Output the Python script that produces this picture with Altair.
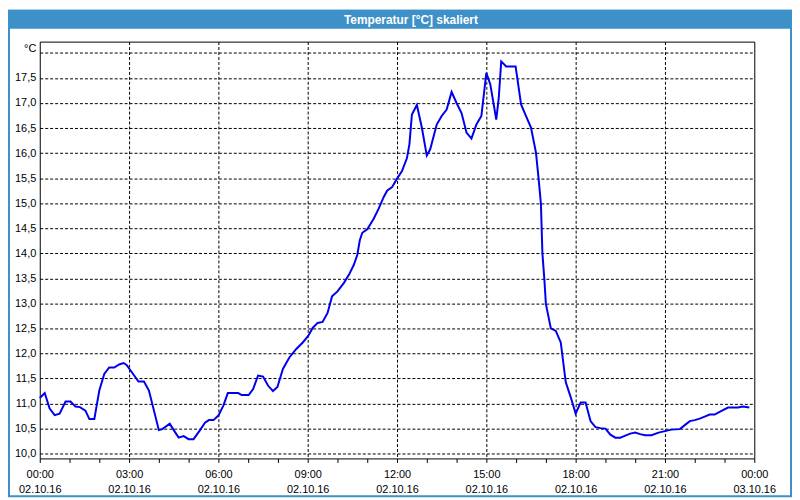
import json
import altair as alt
import pandas as pd

# ---- data ----
times = ["00:00","00:10","00:20","00:30","00:40","00:52","01:02","01:12","01:21","01:32",
         "01:40","01:50","02:00","02:10","02:20","02:30","02:40","02:49","02:55","03:03",
         "03:19","03:30","03:40","04:00","04:07","04:22","04:30","04:40","04:50","05:00",
         "05:10","05:23","05:33","05:41","05:50","06:00","06:10","06:19","06:40","06:47",
         "07:01","07:10","07:20","07:30","07:40","07:50","07:59","08:10","08:23","08:37",
         "08:50","09:01","09:10","09:20","09:30","09:40","09:49","10:00","10:13","10:23",
         "10:33","10:40","10:45","10:50","11:00","11:13","11:23","11:33","11:40","11:50",
         "12:00","12:10","12:20","12:25","12:30","12:40","12:50","13:00","13:07","13:20",
         "13:30","13:40","13:50","14:00","14:10","14:20","14:30","14:40","14:50","14:55",
         "15:00","15:08","15:20","15:25","15:30","15:40","15:59","16:10","16:20","16:30",
         "16:40","16:45","16:50","16:53","16:57","17:00","17:10","17:20","17:30","17:40",
         "17:50","18:00","18:10","18:20","18:30","18:40","18:50","19:00","19:10","19:20",
         "19:30","19:40","19:50","20:00","20:10","20:20","20:33","20:47","21:00","21:13",
         "21:30","21:40","21:50","22:00","22:10","22:20","22:30","22:40","22:53","23:07",
         "23:27","23:37","23:50"]
temps = [11.11,11.21,10.90,10.77,10.80,11.04,11.04,10.94,10.93,10.86,
         10.69,10.69,11.26,11.59,11.72,11.72,11.78,11.81,11.77,11.66,
         11.44,11.44,11.26,10.47,10.49,10.60,10.47,10.32,10.35,10.29,
         10.29,10.47,10.62,10.67,10.67,10.76,10.96,11.21,11.21,11.17,
         11.17,11.29,11.56,11.54,11.36,11.25,11.33,11.69,11.92,12.09,
         12.22,12.35,12.51,12.61,12.63,12.81,13.14,13.24,13.41,13.57,
         13.77,13.97,14.26,14.41,14.48,14.69,14.89,15.12,15.25,15.32,
         15.49,15.64,15.90,16.18,16.77,16.96,16.51,15.95,16.08,16.57,
         16.74,16.87,17.22,17.00,16.80,16.41,16.29,16.57,16.74,17.17,
         17.60,17.37,16.67,17.10,17.83,17.73,17.73,16.97,16.74,16.51,
         16.01,15.52,14.99,14.00,13.47,12.99,12.50,12.45,12.22,11.43,
         11.13,10.80,11.02,11.02,10.65,10.53,10.51,10.50,10.38,10.32,
         10.32,10.36,10.40,10.42,10.39,10.37,10.37,10.42,10.45,10.48,
         10.49,10.57,10.65,10.67,10.70,10.74,10.78,10.78,10.85,10.92,
         10.92,10.94,10.92]

hour_labels = ["00:00","03:00","06:00","09:00","12:00","15:00","18:00","21:00","00:00"]
date_labels = ["02.10.16"]*8 + ["03.10.16"]
y_ticks = [10.0,10.5,11.0,11.5,12.0,12.5,13.0,13.5,14.0,14.5,15.0,15.5,16.0,16.5,17.0,17.5,18.0]
title_text = "Temperatur [°C] skaliert"
unit_label = "°C"

def to_min(s):
    h, m = s.split(":")
    return int(h) * 60 + int(m)

df = pd.DataFrame({"minute": [to_min(t) for t in times], "temp": temps, "time": times})

BLUE_BAR = "#3e90c8"
LINE = "#0000ee"
FONT = "Liberation Sans"

x_label_expr = (
    "datum.value % 180 == 0 ? ["
    + json.dumps(hour_labels) + "[datum.value/180], "
    + json.dumps(date_labels) + "[datum.value/180]] : ''"
)
y_label_expr = (
    "datum.value >= 17.99 ? '" + unit_label + "' : replace(format(datum.value, '.1f'), '.', ',')"
)

line = alt.Chart(df).mark_line(color=LINE, strokeWidth=2).encode(
    x=alt.X(
        "minute:Q",
        scale=alt.Scale(domain=[0, 1440], nice=False, zero=False),
        axis=alt.Axis(
            values=list(range(0, 1441, 60)),
            title=None,
            labelExpr=x_label_expr,
            labelLineHeight=15,
            labelBaseline="top",
            labelPadding=6,
            tickSize=4,
            tickColor="black",
            domain=False,
            grid=True,
            gridColor="black",
            gridDash=[3, 2],
            gridOpacity={"expr": "datum.value % 180 == 0 && datum.value > 0 && datum.value < 1440 ? 1 : 0"},
            labelOverlap=False,
            labelFlush=False,
        ),
    ),
    y=alt.Y(
        "temp:Q",
        scale=alt.Scale(domain=[9.905, 18.225], nice=False, zero=False),
        axis=alt.Axis(
            values=y_ticks,
            title=None,
            labelExpr=y_label_expr,
            labelPadding=4,
            tickSize=0,
            ticks=False,
            domain=False,
            grid=True,
            gridColor="black",
            gridDash=[3, 2],
            labelOffset={"expr": "datum.value >= 17.99 ? -4 : 0"},
            labelOverlap=False,
        ),
    ),
)

one = pd.DataFrame({"t": [title_text]})

bar = alt.Chart(one).mark_rect(color=BLUE_BAR).encode(
    x=alt.value(-32), x2=alt.value(758), y=alt.value(-32), y2=alt.value(-13)
)
title = alt.Chart(one).mark_text(
    color="white", font=FONT, fontSize=12, fontWeight="bold", align="center", baseline="middle"
).encode(x=alt.value(374), y=alt.value(-22), text="t:N")
border = alt.Chart(one).mark_rect(fillOpacity=0, stroke=BLUE_BAR, strokeWidth=2).encode(
    x=alt.value(-31), x2=alt.value(757), y=alt.value(-31), y2=alt.value(458)
)

chart = alt.layer(bar, border, line, title).properties(
    width=720,
    height=420,
    autosize=alt.AutoSizeParams(type="none"),
    padding={"left": 32, "top": 32, "right": 38, "bottom": 40},
    background="white",
).configure_view(
    stroke="black", strokeWidth=1
).configure_axis(
    labelFont=FONT, labelFontSize=11, labelColor="black"
)

chart.save("out.html", embed_options={"renderer": "svg", "actions": False})
